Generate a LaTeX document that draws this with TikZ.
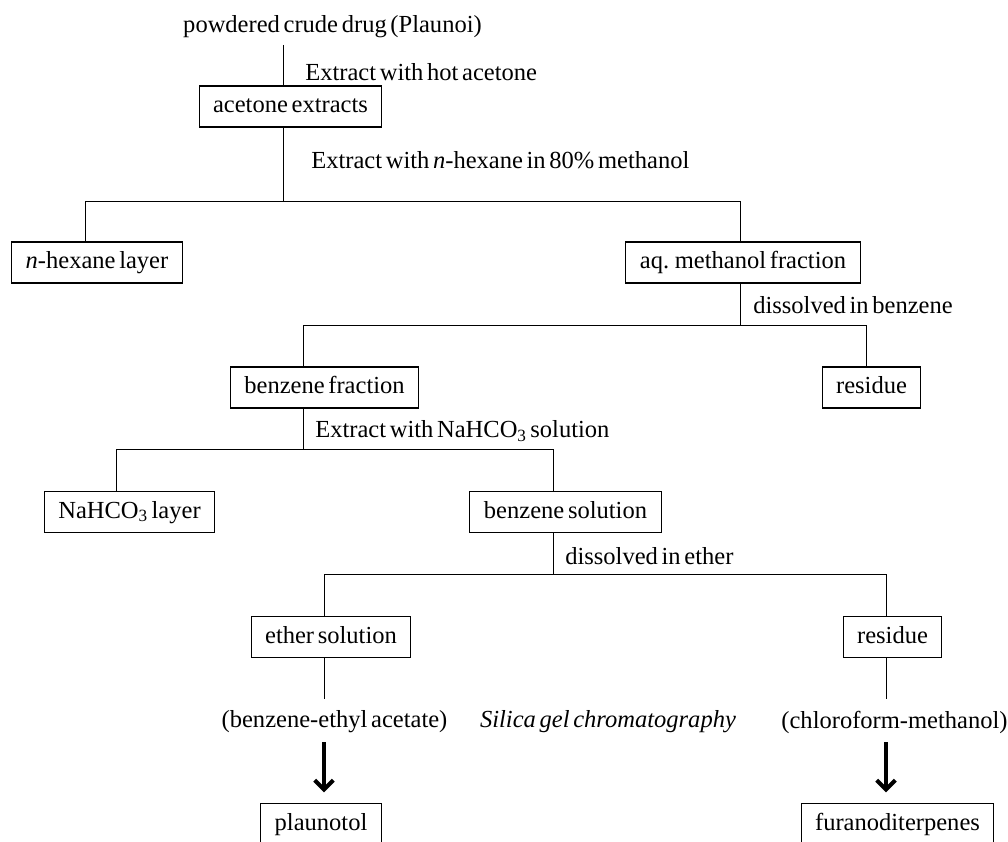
\documentclass[tikz,border=0pt]{standalone}
\usepackage{fontspec}
\setmainfont{Liberation Serif}[WordSpace=0.6]
\usetikzlibrary{arrows.meta}

\begin{document}
\begin{tikzpicture}[x=0.75pt, y=-0.75pt,
    font=\fontsize{18.4}{22}\selectfont,
    box/.style={draw, line width=0.8pt, inner xsep=10.5pt, inner ysep=0pt,
                minimum height=30.75pt, text height=13pt, text depth=4pt},
    note/.style={anchor=west, inner sep=0pt},
    link/.style={line width=0.75pt},
    flow/.style={line width=3pt, -{Straight Barb[length=7pt, width=14pt]},
                 shorten >=8pt},
]
\path[use as bounding box, clip] (0,0) rectangle (1008,842);

% === Nodes ===
\node (src) at (332.5,27) {powdered crude drug (Plaunoi)};
\node[box] (acet)  at (290.5,106.5) {acetone extracts};
\node[box] (hex)   at (97,262.5)    {\textit{n}-hexane layer};
\node[box] (aq)    at (743,262.5)   {aq. methanol fraction};
\node[box] (benf)  at (324.5,387.5) {benzene fraction};
\node[box] (res1)  at (871.5,387.5) {residue};
\node[box] (nahco) at (129.5,512)   {NaHCO\textsubscript{3} layer};
\node[box] (bsol)  at (565.5,512)   {benzene solution};
\node[box] (eth)   at (331,637)     {ether solution};
\node[box] (res2)  at (892.5,637)   {residue};
\node[box] (plau)  at (321,824)     {plaunotol};
\node[box] (furan) at (897.5,824)   {furanoditerpenes};

% === Step labels ===
\node[note] (t1) at (305,72)  {Extract with hot acetone};
\node[note] (t2) at (311,160) {Extract with \textit{n}-hexane in 80\% methanol};
\node[note] (t3) at (753,305) {dissolved in benzene};
\node[note] (t4) at (315,431) {Extract with NaHCO\textsubscript{3} solution};
\node[note] (t5) at (565,556) {dissolved in ether};
\node (elu1) at (334.5,722) {(benzene-ethyl acetate)};
\node (sgc)  at (608,722)   {\textit{Silica gel chromatography}};
\node (elu2) at (894.5,722) {(chloroform-methanol)};

% === Connectors ===
\coordinate (s0) at (283,45);
\draw[link] (s0) -- (acet.north -| s0);

% split 1
\coordinate (j1)  at (283,201);
\coordinate (j1l) at (85,201);
\coordinate (j1r) at (740,201);
\draw[link] (acet.south -| j1) -- (j1);
\draw[link] (hex.north -| j1l) -- (j1l) -- (j1r) -- (aq.north -| j1r);

% split 2
\coordinate (j2)  at (740,325);
\coordinate (j2l) at (303,325);
\coordinate (j2r) at (866,325);
\draw[link] (aq.south -| j2) -- (j2);
\draw[link] (benf.north -| j2l) -- (j2l) -- (j2r) -- (res1.north -| j2r);

% split 3
\coordinate (j3)  at (303,449);
\coordinate (j3l) at (116,449);
\coordinate (j3r) at (553,449);
\draw[link] (benf.south -| j3) -- (j3);
\draw[link] (nahco.north -| j3l) -- (j3l) -- (j3r) -- (bsol.north -| j3r);

% split 4
\coordinate (j4)  at (553,574);
\coordinate (j4l) at (324,574);
\coordinate (j4r) at (886,574);
\draw[link] (bsol.south -| j4) -- (j4);
\draw[link] (eth.north -| j4l) -- (j4l) -- (j4r) -- (res2.north -| j4r);

% chromatography
\coordinate (e1) at (324,699);
\coordinate (e2) at (886,699);
\draw[link] (eth.south -| e1) -- (e1);
\draw[link] (res2.south -| e2) -- (e2);
\coordinate (a1) at (324,742);
\coordinate (a2) at (886,742);
\draw[flow] (a1) -- (plau.north -| a1);
\draw[flow] (a2) -- (furan.north -| a2);
\end{tikzpicture}
\end{document}
